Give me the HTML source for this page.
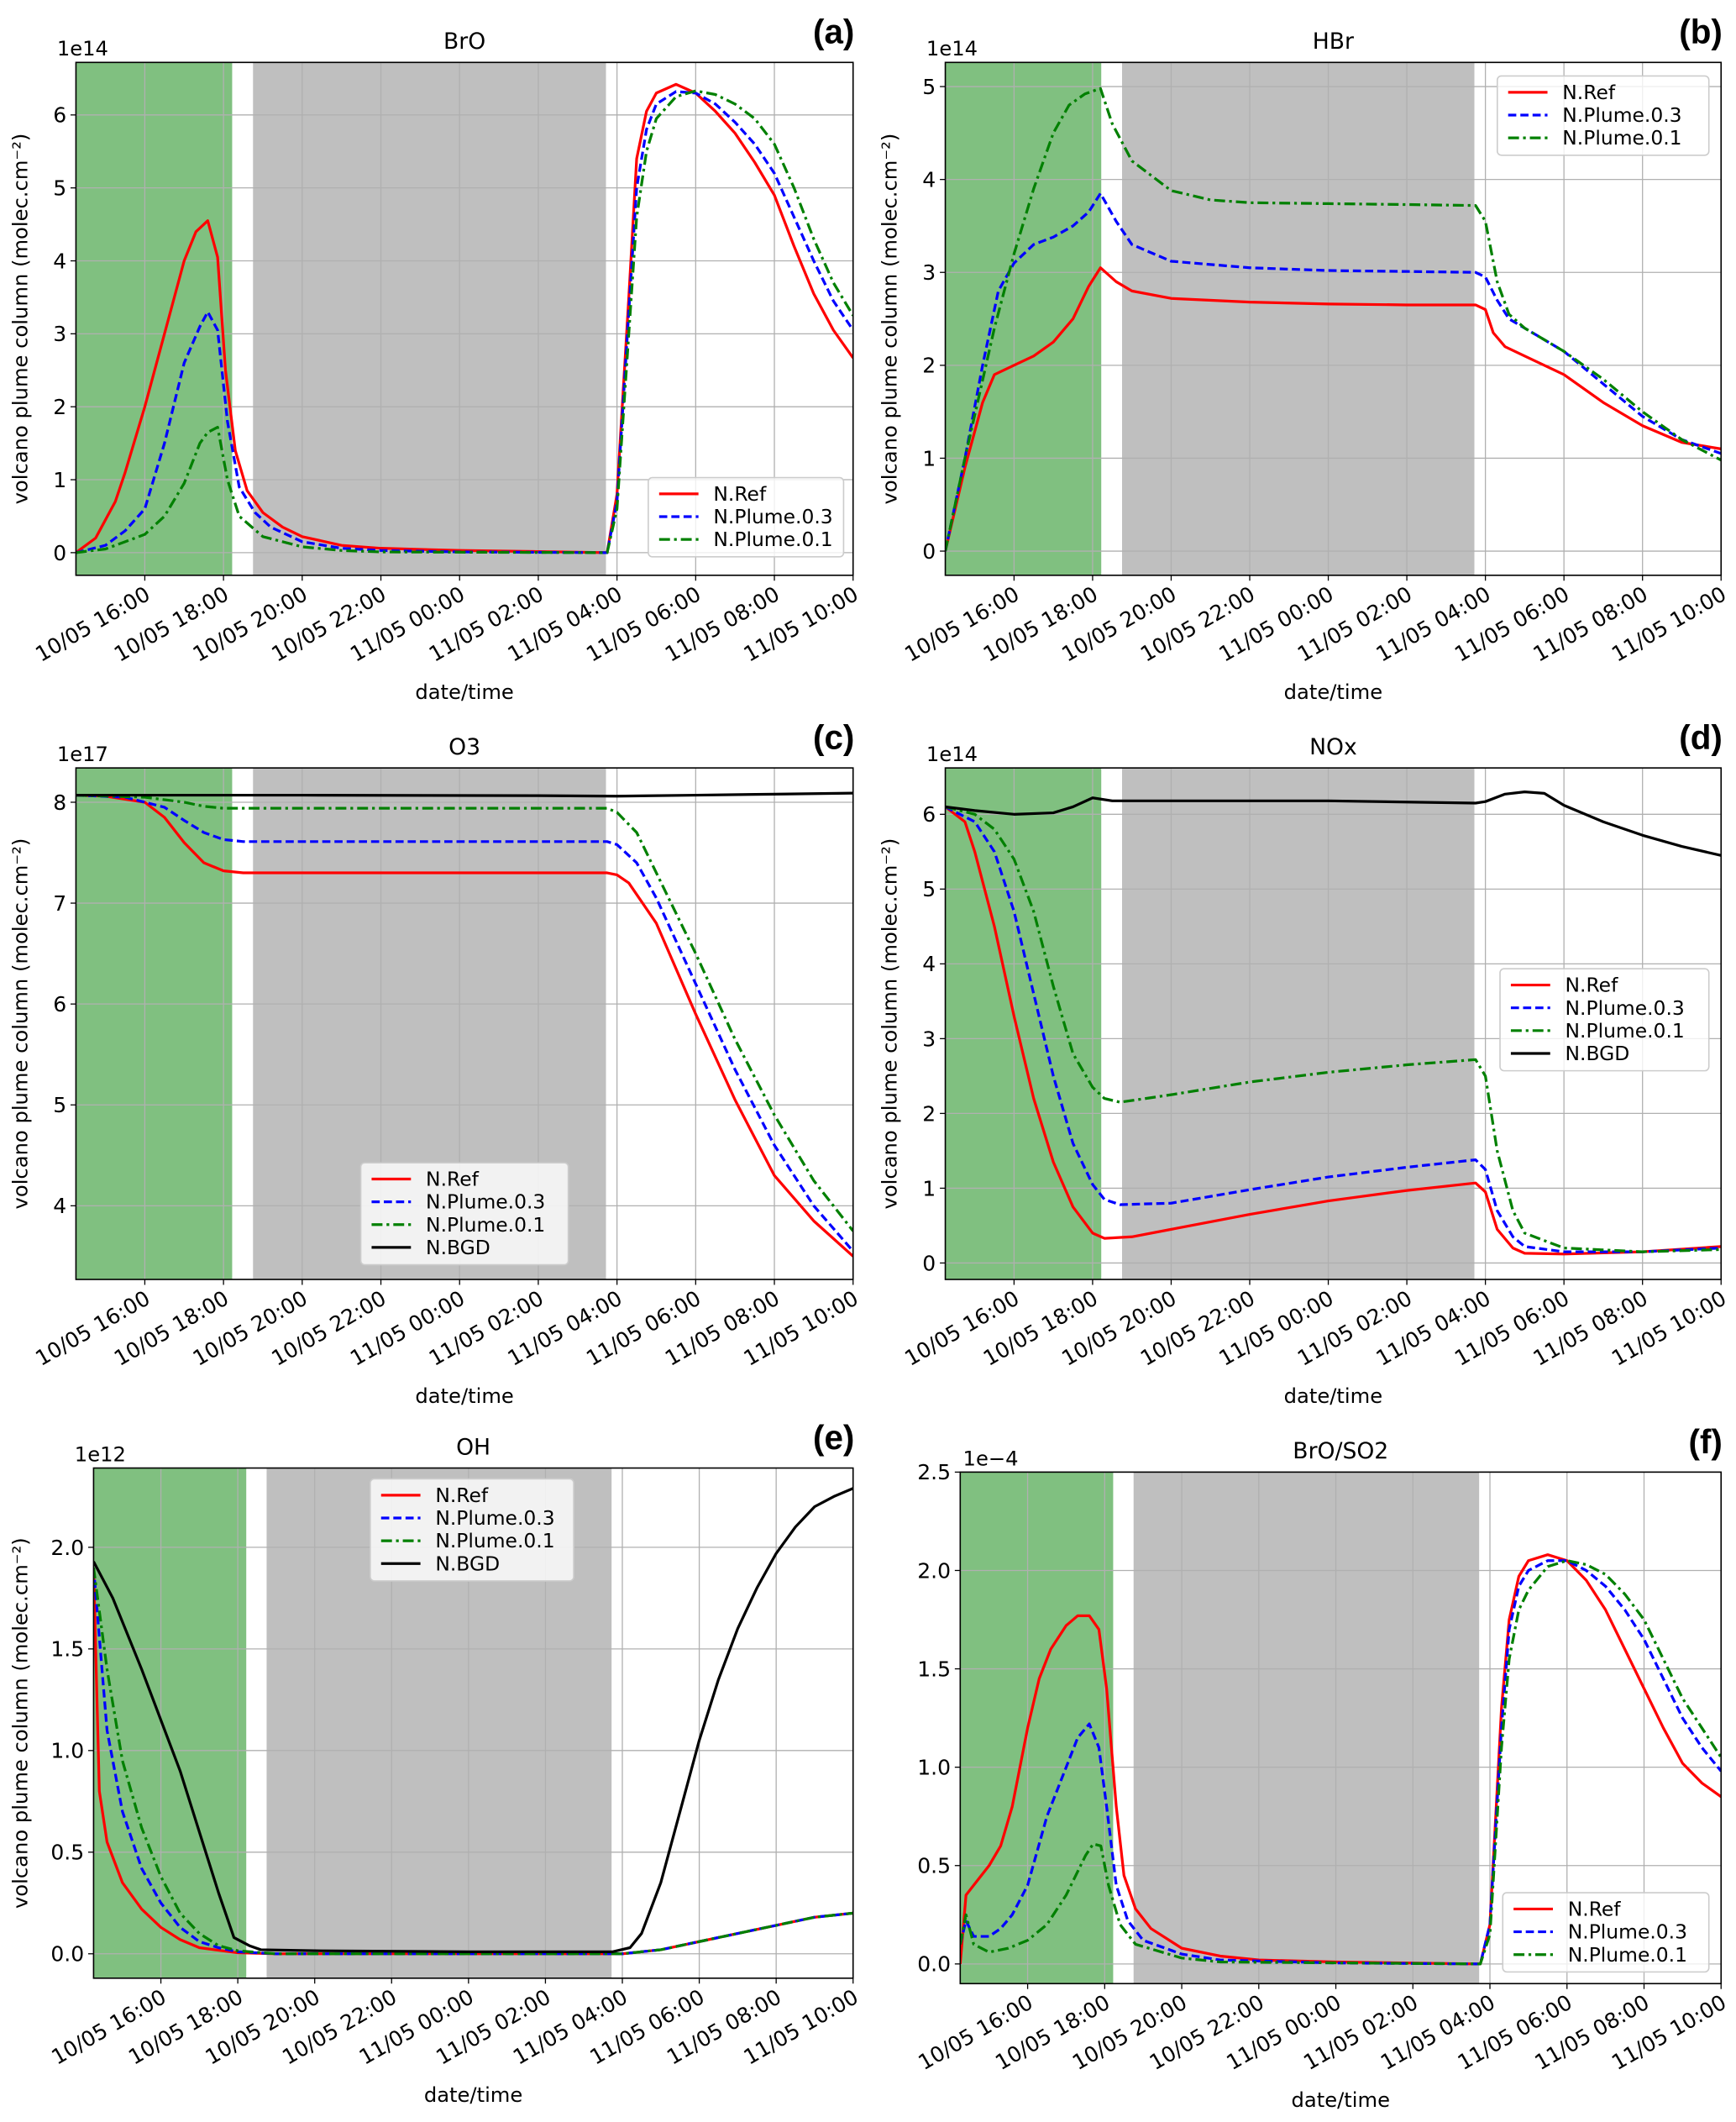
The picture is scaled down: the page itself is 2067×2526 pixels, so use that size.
<!DOCTYPE html>
<html><head><meta charset="utf-8"><style>
html,body{margin:0;padding:0;background:#fff;}
svg{display:block;font-family:"DejaVu Sans","Liberation Sans",sans-serif;}
</style></head><body>
<svg id="fig" width="2067" height="2526" viewBox="0 0 1280 1564" preserveAspectRatio="none" xmlns="http://www.w3.org/2000/svg"></svg>
<script>
// ---- shared tick labels ----
const xTickHours = [16,18,20,22,24,26,28,30,32,34];
const xTickLabels = ["10/05 16:00","10/05 18:00","10/05 20:00","10/05 22:00","11/05 00:00","11/05 02:00","11/05 04:00","11/05 06:00","11/05 08:00","11/05 10:00"];

// ---- (a) BrO ----
const broRefT = [14.25,14.75,15.25,15.5,16,16.5,17,17.3,17.6,17.85,18.05,18.3,18.6,19,19.5,20,21,22,24,26,27.75,28,28.3,28.5,28.75,29,29.5,30,30.5,31,31.5,32,32.5,33,33.5,34];
const broRefV = [0,0.2,0.7,1.1,2.0,3.0,4.0,4.4,4.55,4.05,2.5,1.4,0.85,0.55,0.35,0.22,0.1,0.06,0.03,0.015,0,0.8,3.5,5.4,6.05,6.3,6.42,6.3,6.05,5.75,5.35,4.9,4.2,3.55,3.05,2.67];
const broP3T = [14.25,15,15.5,16,16.5,17,17.4,17.6,17.85,18.1,18.4,18.8,19.2,20,21,22,24,27.75,28,28.3,28.5,28.75,29,29.5,30,30.5,31,31.5,32,32.5,33,33.5,34];
const broP3V = [0,0.1,0.3,0.6,1.5,2.6,3.1,3.3,3.05,1.8,0.9,0.55,0.35,0.15,0.06,0.03,0.01,0,0.7,3.3,5.0,5.8,6.15,6.32,6.3,6.15,5.9,5.6,5.2,4.6,4.0,3.45,3.05];
const broP1T = [14.25,15,15.5,16,16.5,17,17.4,17.6,17.85,18.1,18.4,19,20,21,22,27.75,28,28.3,28.5,28.75,29,29.5,30,30.5,31,31.5,32,32.5,33,33.5,34];
const broP1V = [0,0.05,0.15,0.25,0.5,0.95,1.5,1.65,1.72,1.0,0.5,0.22,0.08,0.03,0.01,0,0.6,3.0,4.6,5.5,5.95,6.25,6.33,6.28,6.15,5.95,5.6,5.0,4.3,3.7,3.25];
const broYTicks = [0,1,2,3,4,5,6];

// ---- (b) HBr ----
const hbrRefT = [14.25,14.75,15.2,15.5,16,16.5,17,17.5,17.9,18.2,18.6,19,20,22,24,26,27.75,28,28.2,28.5,29,30,31,32,33,34];
const hbrRefV = [0,0.9,1.6,1.9,2.0,2.1,2.25,2.5,2.85,3.05,2.9,2.8,2.72,2.68,2.66,2.65,2.65,2.6,2.35,2.2,2.1,1.9,1.6,1.35,1.17,1.1];
const hbrP3T = [14.25,14.75,15.2,15.6,16,16.5,17,17.5,17.9,18.2,18.6,19,20,22,24,26,27.75,28,28.3,28.6,29,30,31,32,33,34];
const hbrP3V = [0,1.0,2.0,2.8,3.1,3.3,3.38,3.5,3.65,3.85,3.55,3.3,3.12,3.05,3.02,3.01,3.0,2.95,2.7,2.5,2.4,2.15,1.8,1.45,1.2,1.05];
const hbrP1T = [14.25,14.75,15.5,16,16.5,17,17.4,17.8,18.2,18.5,19,20,21,22,24,26,27.75,28,28.3,28.6,29,30,31,32,33,34];
const hbrP1V = [0,1.0,2.4,3.2,3.9,4.5,4.8,4.92,4.98,4.6,4.2,3.88,3.78,3.75,3.74,3.73,3.72,3.55,2.9,2.55,2.4,2.15,1.85,1.5,1.2,0.98];
const hbrYTicks = [0,1,2,3,4,5];

// ---- (c) O3 ----
const o3RefT = [14.25,15,16,16.5,17,17.5,18,18.5,20,27.75,28,28.3,29,30,31,32,33,34];
const o3RefV = [8.07,8.06,8.0,7.85,7.6,7.4,7.32,7.3,7.3,7.3,7.28,7.2,6.8,5.9,5.05,4.3,3.85,3.5];
const o3P3T = [14.25,15.5,16.5,17,17.5,18,18.5,27.75,28,28.5,29,30,31,32,33,34];
const o3P3V = [8.07,8.05,7.95,7.82,7.7,7.63,7.61,7.61,7.58,7.4,7.05,6.2,5.35,4.6,4.0,3.55];
const o3P1T = [14.25,16,17,17.5,18,27.75,28,28.5,29,30,31,32,33,34];
const o3P1V = [8.07,8.05,8.0,7.96,7.94,7.94,7.9,7.7,7.3,6.5,5.65,4.9,4.25,3.75];
const o3BgT = [14.25,20,26,28,30,32,34];
const o3BgV = [8.07,8.07,8.065,8.06,8.07,8.08,8.09];
const o3YTicks = [4,5,6,7,8];

// ---- (d) NOx ----
const noxRefT = [14.25,14.75,15,15.5,16,16.5,17,17.5,18,18.3,19,20,22,24,26,27.75,28,28.3,28.7,29,30,32,34];
const noxRefV = [6.1,5.9,5.5,4.5,3.3,2.2,1.35,0.75,0.4,0.33,0.35,0.45,0.65,0.83,0.97,1.07,0.95,0.45,0.2,0.13,0.12,0.15,0.22];
const noxP3T = [14.25,15,15.5,16,16.5,17,17.5,18,18.3,18.7,20,22,24,26,27.75,28,28.3,28.7,29,30,32,34];
const noxP3V = [6.1,5.9,5.5,4.7,3.6,2.5,1.6,1.05,0.85,0.78,0.8,0.98,1.15,1.28,1.38,1.25,0.7,0.35,0.22,0.15,0.15,0.2];
const noxP1T = [14.25,15,15.5,16,16.5,17,17.5,18,18.3,18.7,20,22,24,26,27.75,28,28.3,28.7,29,30,32,34];
const noxP1V = [6.1,6.0,5.8,5.4,4.7,3.7,2.8,2.35,2.2,2.15,2.25,2.42,2.55,2.65,2.72,2.5,1.5,0.7,0.4,0.2,0.15,0.18];
const noxBgT = [14.25,15,16,17,17.5,18,18.5,20,24,27.75,28,28.5,29,29.5,30,31,32,33,34];
const noxBgV = [6.1,6.05,6.0,6.02,6.1,6.22,6.18,6.18,6.18,6.15,6.17,6.27,6.3,6.28,6.12,5.9,5.72,5.57,5.45];
const noxYTicks = [0,1,2,3,4,5,6];

// ---- (e) OH ----
const ohRefT = [14.25,14.4,14.6,15,15.5,16,16.5,17,18,19,28,29,30,31,32,33,34];
const ohRefV = [1.9,0.8,0.55,0.35,0.22,0.13,0.07,0.03,0.005,0,0,0.02,0.06,0.1,0.14,0.18,0.2];
const ohP3T = [14.25,14.6,15,15.5,16,16.5,17,17.5,18,19,28,29,30,31,32,33,34];
const ohP3V = [1.9,1.1,0.7,0.42,0.25,0.13,0.06,0.03,0.01,0,0,0.02,0.06,0.1,0.14,0.18,0.2];
const ohP1T = [14.25,14.6,15,15.5,16,16.5,17,17.5,18,19,28,29,30,31,32,33,34];
const ohP1V = [1.9,1.4,0.95,0.62,0.38,0.2,0.1,0.04,0.015,0,0,0.02,0.06,0.1,0.14,0.18,0.2];
const ohBgT = [14.25,14.75,15.5,16,16.5,17,17.5,17.9,18.3,18.6,20,24,27.75,28.2,28.5,29,29.5,30,30.5,31,31.5,32,32.5,33,33.5,34];
const ohBgV = [1.93,1.75,1.4,1.15,0.9,0.6,0.3,0.08,0.04,0.02,0.015,0.01,0.01,0.03,0.1,0.35,0.7,1.05,1.35,1.6,1.8,1.97,2.1,2.2,2.25,2.29];
const ohYTicks = [0,0.5,1.0,1.5,2.0];

// ---- (f) BrO/SO2 ----
const ratRefT = [14.25,14.4,14.6,15,15.3,15.6,16,16.3,16.6,17,17.3,17.6,17.85,18.05,18.3,18.5,18.8,19.2,20,21,22,24,27.75,28,28.3,28.5,28.75,29,29.5,30,30.5,31,31.5,32,32.5,33,33.5,34];
const ratRefV = [0,0.35,0.4,0.5,0.6,0.8,1.2,1.45,1.6,1.72,1.77,1.77,1.7,1.4,0.8,0.45,0.28,0.18,0.08,0.04,0.02,0.01,0,0.2,1.3,1.75,1.97,2.05,2.08,2.05,1.95,1.8,1.6,1.4,1.2,1.02,0.92,0.85];
const ratP3T = [14.25,14.4,14.6,15,15.3,15.6,16,16.5,17,17.3,17.6,17.85,18.05,18.3,18.6,19,20,21,24,27.75,28,28.3,28.5,28.75,29,29.5,30,30.5,31,31.5,32,32.5,33,33.5,34];
const ratP3V = [0.1,0.22,0.14,0.14,0.18,0.25,0.4,0.75,1.0,1.15,1.22,1.1,0.8,0.4,0.22,0.12,0.05,0.02,0.005,0,0.2,1.2,1.7,1.92,2.0,2.05,2.05,2.0,1.92,1.8,1.65,1.45,1.25,1.1,0.98];
const ratP1T = [14.25,14.4,14.6,15,15.5,16,16.5,17,17.5,17.7,17.9,18.1,18.4,18.8,20,21,27.75,28,28.3,28.5,28.75,29,29.5,30,30.5,31,31.5,32,32.5,33,33.5,34];
const ratP1V = [0.1,0.25,0.1,0.06,0.08,0.12,0.2,0.35,0.55,0.61,0.6,0.4,0.2,0.1,0.03,0.01,0,0.15,1.1,1.55,1.8,1.9,2.02,2.05,2.03,1.98,1.88,1.75,1.55,1.35,1.2,1.05];
const ratYTicks = [0,0.5,1.0,1.5,2.0,2.5];

const NS = "http://www.w3.org/2000/svg";
const svg = document.getElementById('fig');
function mk(tag, parent, attrs){
  const e = document.createElementNS(NS, tag);
  for (const k in attrs) e.setAttribute(k, attrs[k]);
  parent.appendChild(e);
  return e;
}
const STY = {
  ref:{stroke:"#ff0000",dash:"",label:"N.Ref"},
  p3:{stroke:"#0000ff",dash:"6,3",label:"N.Plume.0.3"},
  p1:{stroke:"#008000",dash:"8,3,2,3",label:"N.Plume.0.1"},
  bg:{stroke:"#000000",dash:"",label:"N.BGD"}
};

function panel(cfg){
  const g = mk('g', svg, {});
  
  
  const L=cfg.box[0], R=cfg.box[1], T=cfg.box[2], B=cfg.box[3];
  const xMin=14.25, xMax=34;
  const xs = h => L + (h - xMin)/(xMax - xMin)*(R-L);
  const ys = v => B - (v - cfg.ylim[0])/(cfg.ylim[1]-cfg.ylim[0])*(B-T);
  const green = mk('rect', g, {x:L, y:T, width:xs(18.22)-L, height:B-T, fill:"#80c080"});
  
  
  const gray = mk('rect', g, {x:xs(18.75), y:T, width:xs(27.72)-xs(18.75), height:B-T, fill:"#bfbfbf"});
  
  
  xTickHours.forEach((h,i)=>{
    const x = xs(h);
    const gl = mk('line', g, {x1:x,x2:x,y1:T,y2:B,stroke:"#b0b0b0","stroke-width":0.8});
    
    
    mk('line', g, {x1:x,x2:x,y1:B,y2:B+4,stroke:"#000","stroke-width":0.8});
    const t = mk('text', g, {x:x+5, y:B+17, "font-size":15.5, "text-anchor":"end", transform:`rotate(-30 ${x+5} ${B+17})`});
    t.textContent = xTickLabels[i];
    
    
  });
  cfg.yticks.forEach(v=>{
    const y = ys(v);
    const gl = mk('line', g, {x1:L,x2:R,y1:y,y2:y,stroke:"#b0b0b0","stroke-width":0.8});
    
    
    mk('line', g, {x1:L-4,x2:L,y1:y,y2:y,stroke:"#000","stroke-width":0.8});
    const t = mk('text', g, {x:L-7, y:y+5.5, "font-size":15.5, "text-anchor":"end"});
    t.textContent = cfg.fmt ? v.toFixed(1) : String(v);
    
    
  });
  const clip = mk('clipPath', g, {id:'clip-'+cfg.name});
  mk('rect', clip, {x:L,y:T,width:R-L,height:B-T});
  cfg.series.forEach(s=>{
    const st = STY[s.key];
    const d = s.t.map((h,i)=>(i?'L':'M')+xs(h).toFixed(2)+','+ys(s.v[i]).toFixed(2)).join(' ');
    const p = mk('path', g, {d:d, fill:"none", stroke:st.stroke, "stroke-width":2, "stroke-dasharray":st.dash, "clip-path":`url(#clip-${cfg.name})`, "stroke-linejoin":"round"});
    
    
  });
  mk('rect', g, {x:L,y:T,width:R-L,height:B-T,fill:"none",stroke:"#000","stroke-width":1});
  const ti = mk('text', g, {x:(L+R)/2, y:T-10, "font-size":16.5, "text-anchor":"middle"});
  ti.textContent = cfg.title;
  
  
  const pl = mk('text', g, {x:R+1, y:T-14, "font-size":25, "font-weight":"bold", "text-anchor":"end", "font-family":"Liberation Sans, sans-serif"});
  pl.textContent = cfg.letter;
  
  
  const off = mk('text', g, {x:cfg.offx !== undefined ? cfg.offx : L-14, y:T-5, "font-size":15});
  off.textContent = cfg.offset;
  
  
  const xl = mk('text', g, {x:(L+R)/2, y:B+91, "font-size":15, "text-anchor":"middle"});
  xl.textContent = "date/time";
  
  
  if (cfg.ylab){
    const yx = cfg.ylab, yy=(T+B)/2;
    const yl = mk('text', g, {x:yx, y:yy, "font-size":15, "text-anchor":"middle", transform:`rotate(-90 ${yx} ${yy})`});
    yl.textContent = "volcano plume column (molec.cm\u207B\u00B2)";
    
    
  }
  const lg = cfg.legend;
  const n = cfg.series.length;
  const box = mk('rect', g, {x:lg[0], y:lg[1], width:lg[2], height:8+n*16.8, rx:3, fill:"#fff", "fill-opacity":0.8, stroke:"#cccccc","stroke-width":1});
  
  
  cfg.series.forEach((s,i)=>{
    const st = STY[s.key];
    const yy = lg[1]+12+i*16.8;
    mk('line', g, {x1:lg[0]+8,x2:lg[0]+37,y1:yy,y2:yy,stroke:st.stroke,"stroke-width":2,"stroke-dasharray":st.dash});
    const t = mk('text', g, {x:lg[0]+48, y:yy+5, "font-size":14.5});
    t.textContent = st.label;
    
    
  });
}

panel({name:'panel-a-bro', box:[56,629,46,424], ylim:[-0.31,6.72], yticks:broYTicks, title:"BrO", letter:"(a)", offset:"1e14", ylab:20, legend:[478,352,144],
  series:[{key:'ref',t:broRefT,v:broRefV},{key:'p3',t:broP3T,v:broP3V},{key:'p1',t:broP1T,v:broP1V}]});
panel({name:'panel-b-hbr', box:[697,1269,46,424], ylim:[-0.26,5.26], yticks:hbrYTicks, title:"HBr", letter:"(b)", offset:"1e14", ylab:661, legend:[1104,56,156],
  series:[{key:'ref',t:hbrRefT,v:hbrRefV},{key:'p3',t:hbrP3T,v:hbrP3V},{key:'p1',t:hbrP1T,v:hbrP1V}]});
panel({name:'panel-c-o3', box:[56,629,566,943], ylim:[3.27,8.34], yticks:o3YTicks, title:"O3", letter:"(c)", offset:"1e17", ylab:20, legend:[266,857,153],
  series:[{key:'ref',t:o3RefT,v:o3RefV},{key:'p3',t:o3P3T,v:o3P3V},{key:'p1',t:o3P1T,v:o3P1V},{key:'bg',t:o3BgT,v:o3BgV}]});
panel({name:'panel-d-nox', box:[697,1269,566,943], ylim:[-0.22,6.62], yticks:noxYTicks, title:"NOx", letter:"(d)", offset:"1e14", ylab:661, legend:[1106,714,154],
  series:[{key:'ref',t:noxRefT,v:noxRefV},{key:'p3',t:noxP3T,v:noxP3V},{key:'p1',t:noxP1T,v:noxP1V},{key:'bg',t:noxBgT,v:noxBgV}]});
panel({name:'panel-e-oh', box:[69,629,1082,1458], ylim:[-0.12,2.39], yticks:ohYTicks, fmt:true, title:"OH", letter:"(e)", offset:"1e12", ylab:20, legend:[273,1090,150],
  series:[{key:'ref',t:ohRefT,v:ohRefV},{key:'p3',t:ohP3T,v:ohP3V},{key:'p1',t:ohP1T,v:ohP1V},{key:'bg',t:ohBgT,v:ohBgV}]});
panel({name:'panel-f-bro-so2', box:[708,1269,1085,1462], ylim:[-0.1,2.5], yticks:ratYTicks, fmt:true, title:"BrO/SO2", letter:"(f)", offset:"1e\u22124", offx:710, ylab:0, legend:[1108,1395,152],
  series:[{key:'ref',t:ratRefT,v:ratRefV},{key:'p3',t:ratP3T,v:ratP3V},{key:'p1',t:ratP1T,v:ratP1V}]});
</script>
</body></html>
